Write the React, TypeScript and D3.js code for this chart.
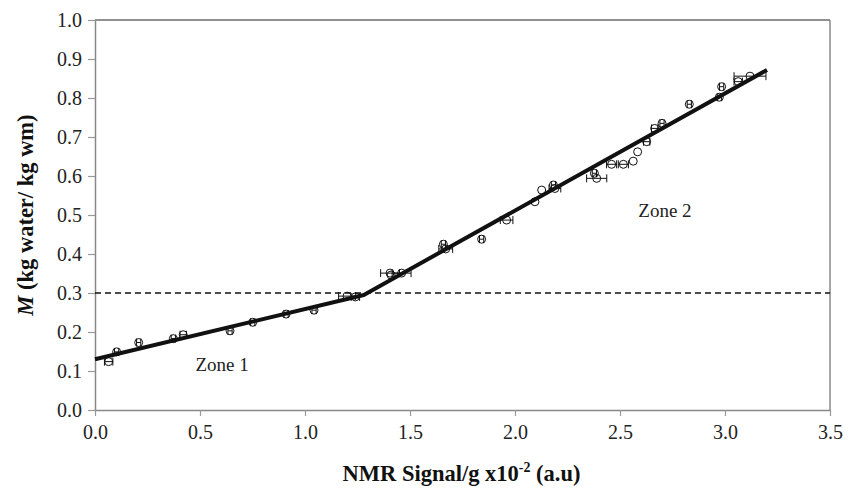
import React, { useRef, useEffect } from 'react';
import * as d3 from 'd3';

// Measured points (NMR signal per g, moisture content) and horizontal error half-widths
const nmrSignal = [
  0.065, 0.103, 0.208, 0.373, 0.42, 0.643, 0.751, 0.91, 1.043, 1.2, 1.24,
  1.405, 1.41, 1.46, 1.659, 1.67, 1.841, 1.96, 2.095, 2.127, 2.183, 2.19,
  2.378, 2.389, 2.46, 2.516, 2.563, 2.584, 2.627, 2.665, 2.7, 2.83, 2.973,
  2.984, 3.063, 3.119,
];
const moisture = [
  0.124, 0.149, 0.173, 0.183, 0.193, 0.203, 0.225, 0.246, 0.256, 0.292, 0.29,
  0.351, 0.346, 0.351, 0.425, 0.413, 0.438, 0.487, 0.534, 0.564, 0.577, 0.568,
  0.607, 0.594, 0.63, 0.63, 0.638, 0.662, 0.688, 0.722, 0.735, 0.784, 0.802,
  0.829, 0.842, 0.856,
];
const signalErr = [
  0.02, 0.01, 0.01, 0.01, 0.015, 0.01, 0.01, 0.01, 0.01, 0.04, 0.02,
  0.045, 0, 0.045, 0.01, 0.033, 0.01, 0.03, 0, 0, 0.01, 0.028,
  0.01, 0.048, 0.024, 0.024, 0, 0, 0.015, 0.015, 0.01, 0.01, 0.01,
  0.01, 0.02, 0.076,
];

// Two-segment fitted line (zone 1 / zone 2)
const fitX = [0, 1.28, 3.2];
const fitY = [0.13, 0.295, 0.872];

const thresholdM = 0.3;
const xTicks = [0, 0.5, 1, 1.5, 2, 2.5, 3, 3.5];
const yTicks = [0, 0.1, 0.2, 0.3, 0.4, 0.5, 0.6, 0.7, 0.8, 0.9, 1.0];
const zoneLabels = [
  { text: 'Zone 1', x: 0.605, y: 0.1 },
  { text: 'Zone 2', x: 2.714, y: 0.495 },
];

const W = 858;
const H = 488;
const FONT = 'Liberation Serif, Times New Roman, serif';

export default function App() {
  const svgRef = useRef<SVGSVGElement>(null);

  useEffect(() => {
    if (!svgRef.current) return;
    const margin = { top: 20, right: 28, bottom: 78, left: 95 };
    const innerW = W - margin.left - margin.right;
    const innerH = H - margin.top - margin.bottom;

    const svg = d3.select(svgRef.current).attr('font-family', FONT);
    svg.selectAll('*').remove();

    const x = d3.scaleLinear().domain([0, 3.5]).range([0, innerW]);
    const y = d3.scaleLinear().domain([0, 1]).range([innerH, 0]);

    const g = svg.append('g').attr('transform', `translate(${margin.left},${margin.top})`);

    // Frame: black top edge, grey axes on the other sides
    g.append('line')
      .attr('x1', 0).attr('x2', innerW).attr('y1', 0).attr('y2', 0)
      .attr('stroke', '#222').attr('stroke-width', 1.2);
    g.append('line')
      .attr('x1', innerW).attr('x2', innerW).attr('y1', 0).attr('y2', innerH)
      .attr('stroke', '#888').attr('stroke-width', 1.5);

    const xAxis = g.append('g')
      .attr('transform', `translate(0,${innerH})`)
      .call(d3.axisBottom(x).tickValues(xTicks).tickFormat(d3.format('.1f')).tickSize(6).tickSizeOuter(0));
    const yAxis = g.append('g')
      .call(d3.axisLeft(y).tickValues(yTicks).tickFormat(d3.format('.1f')).tickSize(7).tickSizeOuter(0));

    [xAxis, yAxis].forEach(ax => {
      ax.attr('font-family', FONT).attr('font-size', 20);
      ax.select('.domain').attr('stroke', '#888').attr('stroke-width', 1.5);
      ax.selectAll('.tick line').attr('stroke', '#999').attr('stroke-width', 1.2);
      ax.selectAll('text').attr('fill', '#222');
    });
    xAxis.selectAll('text').attr('dy', '1.0em');
    yAxis.selectAll('text').attr('x', -13);

    // Dashed threshold
    g.append('line')
      .attr('x1', 0).attr('x2', innerW)
      .attr('y1', y(thresholdM)).attr('y2', y(thresholdM))
      .attr('stroke', '#111').attr('stroke-width', 1.6)
      .attr('stroke-dasharray', '6 4');

    // Error bars
    const pts = nmrSignal.map((v, i) => ({ v, m: moisture[i], e: signalErr[i] }));
    const eb = g.append('g').attr('stroke', '#111').attr('stroke-width', 1);
    pts.filter(d => d.e > 0).forEach(d => {
      const cy = y(d.m);
      const x0 = x(d.v - d.e);
      const x1 = x(d.v + d.e);
      eb.append('line').attr('x1', x0).attr('x2', x1).attr('y1', cy).attr('y2', cy);
      eb.append('line').attr('x1', x0).attr('x2', x0).attr('y1', cy - 4).attr('y2', cy + 4);
      eb.append('line').attr('x1', x1).attr('x2', x1).attr('y1', cy - 4).attr('y2', cy + 4);
    });

    // Open circles
    g.append('g')
      .selectAll('circle')
      .data(pts)
      .join('circle')
      .attr('cx', d => x(d.v))
      .attr('cy', d => y(d.m))
      .attr('r', 4)
      .attr('fill', 'none')
      .attr('stroke', '#111')
      .attr('stroke-width', 1);

    // Fitted line
    const line = d3.line<number>()
      .x((_, i) => x(fitX[i]))
      .y(d => y(d));
    g.append('path')
      .attr('d', line(fitY))
      .attr('fill', 'none')
      .attr('stroke', '#111')
      .attr('stroke-width', 4)
      .attr('stroke-linejoin', 'round');

    // Zone labels
    g.selectAll('text.zone')
      .data(zoneLabels)
      .join('text')
      .attr('class', 'zone')
      .attr('x', d => x(d.x))
      .attr('y', d => y(d.y))
      .attr('text-anchor', 'middle')
      .attr('fill', '#222')
      .attr('font-family', FONT)
      .attr('font-size', 19)
      .text(d => d.text);

    // Axis titles
    const xt = svg.append('text')
      .attr('x', margin.left + innerW / 2 - 1)
      .attr('y', 481)
      .attr('text-anchor', 'middle')
      .attr('fill', '#111')
      .attr('font-family', FONT)
      .attr('font-size', 22.5)
      .attr('font-weight', 'bold');
    xt.append('tspan').text('NMR Signal/g x10');
    xt.append('tspan').attr('dy', -9).attr('font-size', 14).text('-2');
    xt.append('tspan').attr('dy', 9).text(' (a.u)');

    const yt = svg.append('text')
      .attr('transform', `translate(33,215) rotate(-90)`)
      .attr('text-anchor', 'middle')
      .attr('fill', '#111')
      .attr('font-family', FONT)
      .attr('font-size', 22.5)
      .attr('font-weight', 'bold');
    yt.append('tspan').attr('font-style', 'italic').text('M');
    yt.append('tspan').text(' (kg water/ kg wm)');
  }, []);

  return (
    <div style={{ position: 'absolute', left: 0, top: 0, background: '#fff' }}>
      <svg ref={svgRef} width={W} height={H} />
    </div>
  );
}
